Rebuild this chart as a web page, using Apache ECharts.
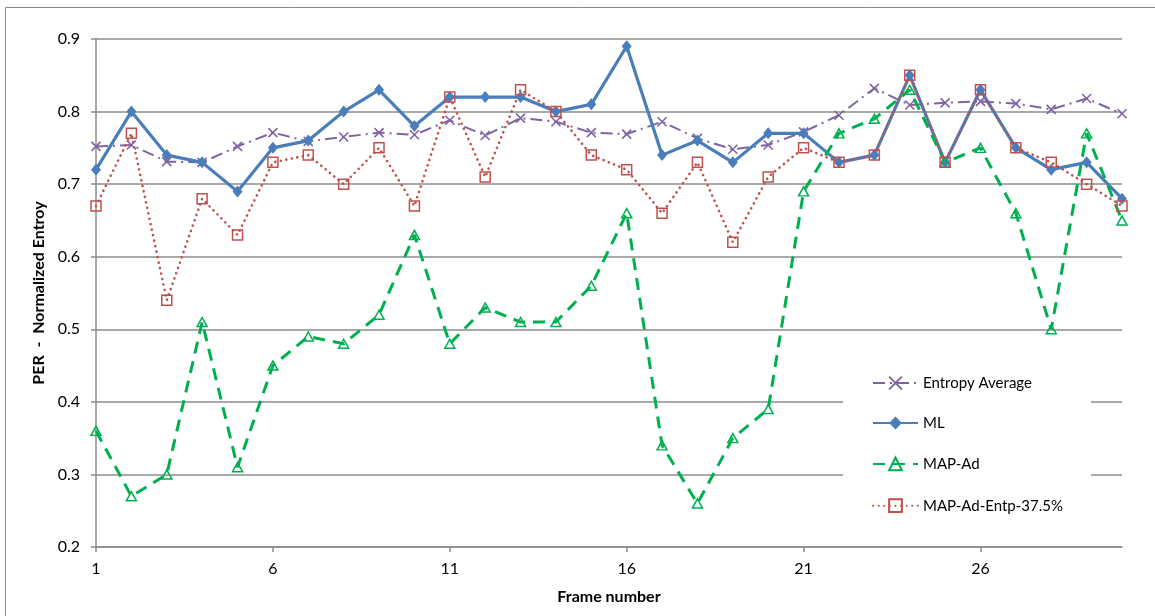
<!DOCTYPE html>
<html>
<head>
<meta charset="utf-8">
<script src="https://cdn.jsdelivr.net/npm/echarts@6/dist/echarts.min.js"></script>
<style>
  html, body { margin: 0; padding: 0; background: #fff; }
  #chart { width: 1155px; height: 616px; }
</style>
</head>
<body>
<div id="chart"></div>
<script>
// Frame numbers 1..30
const frames = ['1','2','3','4','5','6','7','8','9','10','11','12','13','14','15',
                '16','17','18','19','20','21','22','23','24','25','26','27','28','29','30'];

const entropyAverage = [0.752, 0.754, 0.731, 0.730, 0.752, 0.771, 0.759, 0.765, 0.771, 0.768,
                        0.788, 0.767, 0.791, 0.786, 0.771, 0.769, 0.786, 0.763, 0.748, 0.754,
                        0.772, 0.795, 0.832, 0.809, 0.812, 0.814, 0.811, 0.803, 0.818, 0.797];

const ml = [0.72, 0.80, 0.74, 0.73, 0.69, 0.75, 0.76, 0.80, 0.83, 0.78,
            0.82, 0.82, 0.82, 0.80, 0.81, 0.89, 0.74, 0.76, 0.73, 0.77,
            0.77, 0.73, 0.74, 0.85, 0.73, 0.83, 0.75, 0.72, 0.73, 0.68];

const mapAd = [0.36, 0.27, 0.30, 0.51, 0.31, 0.45, 0.49, 0.48, 0.52, 0.63,
               0.48, 0.53, 0.51, 0.51, 0.56, 0.66, 0.34, 0.26, 0.35, 0.39,
               0.69, 0.77, 0.79, 0.83, 0.73, 0.75, 0.66, 0.50, 0.77, 0.65];

const mapAdEntp = [0.67, 0.77, 0.54, 0.68, 0.63, 0.73, 0.74, 0.70, 0.75, 0.67,
                   0.82, 0.71, 0.83, 0.80, 0.74, 0.72, 0.66, 0.73, 0.62, 0.71,
                   0.75, 0.73, 0.74, 0.85, 0.73, 0.83, 0.75, 0.73, 0.70, 0.67];

const seriesNames = ['Entropy Average', 'ML', 'MAP-Ad', 'MAP-Ad-Entp-37.5%'];

const FONT = 'Lato';
const GRID_GRAY = '#8c8c8c';

const chart = echarts.init(document.getElementById('chart'), null, { renderer: 'canvas' });

chart.setOption({
  animation: false,
  backgroundColor: '#fff',
  textStyle: { fontFamily: FONT },
  grid: { left: 96, right: 33, top: 39, bottom: 69, containLabel: false },
  graphic: [
    {
      // outer frame
      type: 'rect', z: 0,
      shape: { x: 5.5, y: 7.5, width: 1200, height: 700 },
      style: { fill: 'none', stroke: '#8a8a8a', lineWidth: 1 }
    },
    {
      // white panel behind the legend
      type: 'rect', z: 5,
      shape: { x: 843, y: 352, width: 248, height: 176 },
      style: { fill: '#fff', stroke: 'none' }
    }
  ],
  legend: {
    z: 10,
    orient: 'vertical',
    left: 867,
    top: 370,
    itemWidth: 45,
    itemHeight: 16,
    itemGap: 24,
    textStyle: { fontFamily: FONT, fontSize: 15, color: '#000', lineHeight: 16 },
    data: seriesNames
  },
  xAxis: {
    type: 'category',
    data: frames,
    boundaryGap: false,
    name: 'Frame number',
    nameLocation: 'middle',
    nameGap: 42,
    nameTextStyle: { fontFamily: FONT, fontSize: 16, fontWeight: 'bold', color: '#000' },
    axisLine: { lineStyle: { color: GRID_GRAY, width: 1.5 } },
    axisTick: { show: true, interval: 4, length: 5, lineStyle: { color: GRID_GRAY, width: 1.5 } },
    axisLabel: { interval: 4, margin: 14, fontFamily: FONT, fontSize: 16, color: '#000' },
    splitLine: { show: false }
  },
  yAxis: {
    type: 'value',
    min: 0.2,
    max: 0.9,
    interval: 0.1,
    name: 'PER  -  Normalized Entroy',
    nameLocation: 'middle',
    nameGap: 44,
    nameRotate: 90,
    nameTextStyle: { fontFamily: FONT, fontSize: 16, fontWeight: 'bold', color: '#000' },
    axisLine: { show: true, lineStyle: { color: GRID_GRAY, width: 1.5 } },
    axisTick: { show: true, length: 5, lineStyle: { color: GRID_GRAY, width: 1.5 } },
    axisLabel: {
      margin: 16, fontFamily: FONT, fontSize: 16, color: '#000',
      formatter: v => v.toFixed(1)
    },
    splitLine: { show: true, lineStyle: { color: GRID_GRAY, width: 1.5 } }
  },
  series: [
    {
      name: seriesNames[0],
      type: 'line',
      data: entropyAverage,
      color: '#8064a2',
      symbol: 'path://M0,0L10,10M0,10L10,0',
      symbolSize: 9,
      showAllSymbol: true,
      itemStyle: { color: '#8064a2', borderColor: '#8064a2', borderWidth: 1.6 },
      lineStyle: { color: '#8064a2', width: 2, type: [12, 5, 2, 5] }
    },
    {
      name: seriesNames[1],
      type: 'line',
      data: ml,
      color: '#4a7ebb',
      symbol: 'diamond',
      symbolSize: [10, 12],
      showAllSymbol: true,
      itemStyle: { color: '#4a7ebb', borderColor: '#4a7ebb', borderWidth: 0 },
      lineStyle: { color: '#4a7ebb', width: 3.2 }
    },
    {
      name: seriesNames[2],
      type: 'line',
      data: mapAd,
      color: '#00b050',
      symbol: 'triangle',
      symbolSize: [10, 9],
      showAllSymbol: true,
      itemStyle: { color: 'none', borderColor: '#00b050', borderWidth: 1.5 },
      lineStyle: { color: '#00b050', width: 3, type: [12, 8] }
    },
    {
      name: seriesNames[3],
      type: 'line',
      data: mapAdEntp,
      color: '#c0504d',
      symbol: 'rect',
      symbolSize: 10,
      showAllSymbol: true,
      itemStyle: { color: 'none', borderColor: '#c0504d', borderWidth: 1.5 },
      lineStyle: { color: '#c0504d', width: 2.6, type: [0.1, 5.5], cap: 'round' }
    }
  ]
});
</script>
</body>
</html>
